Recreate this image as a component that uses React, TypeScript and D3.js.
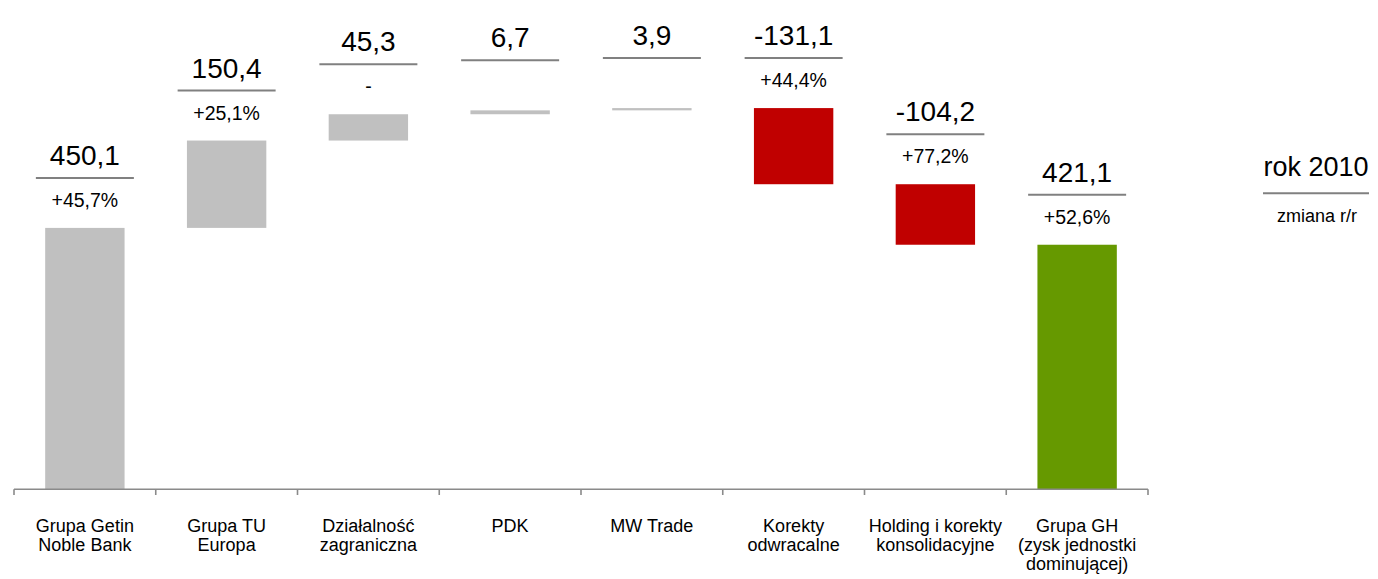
import React from "react";
import * as d3 from "d3";

const categories: string[][] = [
  ["Grupa Getin", "Noble Bank"],
  ["Grupa TU", "Europa"],
  ["Działalność", "zagraniczna"],
  ["PDK"],
  ["MW Trade"],
  ["Korekty", "odwracalne"],
  ["Holding i korekty", "konsolidacyjne"],
  ["Grupa GH", "(zysk jednostki", "dominującej)"],
];
const values: number[] = [450.1, 150.4, 45.3, 6.7, 3.9, -131.1, -104.2, 421.1];
const kinds: string[] = ["total", "step", "step", "step", "step", "step", "step", "total"];
const valueLabels: string[] = ["450,1", "150,4", "45,3", "6,7", "3,9", "-131,1", "-104,2", "421,1"];
const changeLabels: string[] = ["+45,7%", "+25,1%", "-", "", "", "+44,4%", "+77,2%", "+52,6%"];
const legendTitle = "rok 2010";
const legendSub = "zmiana r/r";

const W = 1378;
const H = 579;
const FONT = "'Liberation Sans', Arial, sans-serif";

export default function App() {
  const ids = categories.map((_, i) => String(i));
  const x = d3.scaleBand<string>().domain(ids).range([14, 1148]).paddingInner(0.44).paddingOuter(0.22);
  const y = d3.scaleLinear().domain([0, 842.5]).range([489.3, 0]);

  let cum = 0;
  const bars = values.map((v, i) => {
    let y0: number, y1: number;
    if (kinds[i] === "total") {
      y0 = 0;
      y1 = v;
      cum = v;
    } else {
      y0 = cum;
      y1 = cum + v;
      cum = y1;
    }
    const top = Math.max(y0, y1);
    const bottom = Math.min(y0, y1);
    let color = "#C0C0C0";
    if (kinds[i] === "total" && i === values.length - 1) color = "#669900";
    else if (v < 0) color = "#C00000";
    return { i, top, bottom, color };
  });

  const step = x.step();
  const edges = ids.map((id) => (x(id) as number) - (step - x.bandwidth()) / 2);
  edges.push(1148);

  return (
    <svg width={W} height={H} style={{ position: "absolute", left: 0, top: 0, background: "#fff" }} fontFamily={FONT}>
      {bars.map((b) => {
        const bx = x(String(b.i)) as number;
        const yTop = y(b.top);
        const yBot = y(b.bottom);
        return (
          <rect key={"b" + b.i} x={bx} y={yTop} width={x.bandwidth()} height={Math.max(1.4, yBot - yTop)} fill={b.color} />
        );
      })}
      {/* axis */}
      <line x1={14} x2={1148} y1={489.3} y2={489.3} stroke="#8a8a8a" strokeWidth={1.6} />
      {edges.map((e, k) => (
        <line key={"t" + k} x1={e} x2={e} y1={489.3} y2={495} stroke="#8a8a8a" strokeWidth={1.6} />
      ))}
      {/* category labels */}
      {categories.map((lines, i) => {
        const cx = (x(String(i)) as number) + x.bandwidth() / 2;
        return (
          <text key={"c" + i} x={cx} y={532.3} textAnchor="middle" fontSize={18} fill="#000">
            {lines.map((l, k) => (
              <tspan key={k} x={cx} dy={k === 0 ? 0 : 19}>
                {l}
              </tspan>
            ))}
          </text>
        );
      })}
      {/* value labels */}
      {bars.map((b) => {
        const cx = (x(String(b.i)) as number) + x.bandwidth() / 2;
        const ly = y(b.top) - 50;
        return (
          <g key={"l" + b.i}>
            <text x={cx} y={ly - 13} textAnchor="middle" fontSize={28} fill="#000">
              {valueLabels[b.i]}
            </text>
            <line x1={cx - 49} x2={cx + 49} y1={ly} y2={ly} stroke="#808080" strokeWidth={2} />
            <text x={cx} y={ly + 29} textAnchor="middle" fontSize={19.5} fill="#000">
              {changeLabels[b.i]}
            </text>
          </g>
        );
      })}
      {/* legend */}
      <text x={1316} y={175.7} textAnchor="middle" fontSize={27} fill="#000">
        {legendTitle}
      </text>
      <line x1={1263} x2={1369} y1={193.3} y2={193.3} stroke="#808080" strokeWidth={2} />
      <text x={1317} y={221.7} textAnchor="middle" fontSize={18} fill="#000">
        {legendSub}
      </text>
    </svg>
  );
}
